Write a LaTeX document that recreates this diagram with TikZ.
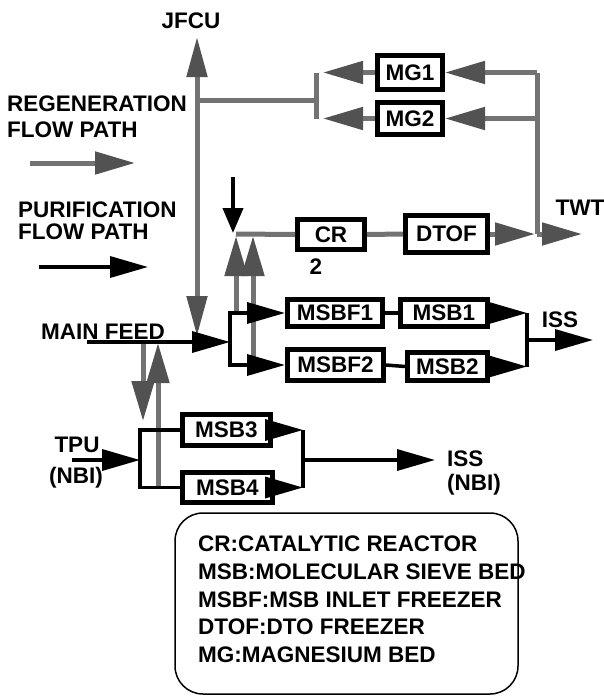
\documentclass[tikz,border=0pt]{standalone}
\usepackage{fontspec}
\setmainfont{Liberation Sans}
\usetikzlibrary{arrows.meta}
\begin{document}
\begin{tikzpicture}[x=1pt,y=-1pt,
  font=\fontsize{22.5}{26}\selectfont\bfseries,
  box/.style={draw=black,line width=5pt,fill=white,inner sep=0pt},
  lbl/.style={inner sep=0pt},
  pur/.style={draw=black,line width=3.5pt},
  purtip/.style={-{Triangle[length=38pt,width=21pt]}},
  reg/.style={draw=black!55,line width=5pt},
  regtip/.style={-{Triangle[length=40pt,width=22pt,color=black!68]}},
  regtips/.style={{Triangle[length=40pt,width=20pt,color=black!68]}-{Triangle[length=40pt,width=20pt,color=black!68]}},
  thin/.style={draw=black,line width=4pt,-{Triangle[length=25pt,width=20pt]}}
]
\useasboundingbox (0,0) rectangle (603,696);

% ---- boxes
\node[box,minimum width=65pt,minimum height=34pt] (MG1) at (410,72.5) {MG1};
\node[box,minimum width=65pt,minimum height=32pt] (MG2) at (410,118.5) {MG2};
\node[box,minimum width=67pt,minimum height=30pt] (CR) at (331,234.5) {CR};
\node[box,minimum width=82pt,minimum height=37pt] (DTOF) at (446.5,234) {DTOF};
\node[box,minimum width=95pt,minimum height=27pt] (MSBF1) at (335,313) {MSBF1};
\node[box,minimum width=87pt,minimum height=27pt] (MSB1) at (444,313) {MSB1};
\node[box,minimum width=96pt,minimum height=31pt] (MSBF2) at (335.5,365) {MSBF2};
\node[box,minimum width=80pt,minimum height=28pt] (MSB2) at (447.5,366.5) {MSB2};
\node[box,minimum width=88pt,minimum height=31pt] (MSB3) at (226.5,430) {MSB3};
\node[box,minimum width=90pt,minimum height=30pt] (MSB4) at (227.5,487.5) {MSB4};

% ---- coordinates
\coordinate (jt) at (197,37);
\coordinate (jb) at (197,336);
\coordinate (jr) at (197,100);
\coordinate (mgj) at (316,100);
\coordinate (mgj1) at (316,72.5);
\coordinate (mgj2) at (316,118.5);
\coordinate (rt1) at (537,72.5);
\coordinate (rt2) at (537,118.5);
\coordinate (rtb) at (537,234);
\coordinate (crin) at (236,234);
\coordinate (dtofout) at (535,234);
\coordinate (twt) at (582,234);
\coordinate (up1s) at (236,313);
\coordinate (up1e) at (236,236);
\coordinate (up2s) at (253,366);
\coordinate (up2e) at (253,236);
\coordinate (blk1) at (233,177);
\coordinate (blk2) at (233,233);
\coordinate (mf) at (87,342);
\coordinate (j1) at (230,342);
\coordinate (o1a) at (527,313);
\coordinate (o1b) at (527,366.5);
\coordinate (o1) at (527,340);
\coordinate (iss1) at (593,340);
\coordinate (dn1s) at (143,342);
\coordinate (dn1e) at (143,421);
\coordinate (up3s) at (158,488);
\coordinate (up3e) at (158,343);
\coordinate (tpu) at (72,460);
\coordinate (j2) at (140,460);
\coordinate (o2a) at (303,430);
\coordinate (o2b) at (303,487.5);
\coordinate (o2) at (303,460);
\coordinate (iss2) at (435,460);
\coordinate (lr1) at (30,163);
\coordinate (lr2) at (135,163);
\coordinate (lp1) at (39,267);
\coordinate (lp2) at (148,267);

% ---- regeneration flow path (gray)
\draw[reg,regtips] (jb) -- (jt);
\draw[reg] (jr) -- (mgj);
\draw[reg] (mgj1) -- (mgj2);
\draw[reg,regtip] (MG1.west) -- ([xshift=7pt]mgj1);
\draw[reg,regtip] (MG2.west) -- ([xshift=7pt]mgj2);
\draw[reg] (rt1) -- (rtb);
\draw[reg,regtip] (rt1) -- (MG1.east);
\draw[reg,regtip] (rt2) -- (MG2.east);
\draw[reg] (crin) -- (CR.west);
\draw[reg] (CR.east) -- (DTOF.west);
\draw[reg,regtip] (DTOF.east) -- (dtofout);
\draw[reg,regtip] (rtb) -- (twt);
\draw[reg,regtip] (up1s) -- (up1e);
\draw[reg,regtip] (up2s) -- (up2e);
\draw[reg,regtip] (dn1s) -- (dn1e);
\draw[reg,regtip] (up3s) -- (up3e);

% ---- purification flow path (black)
\draw[thin] (blk1) -- (blk2);
\draw[pur,purtip] (mf) -- (j1);
\draw[pur,purtip] (j1) |- (MSBF1.west);
\draw[pur,purtip] (j1) |- (MSBF2.west);
\draw[pur] (MSBF1.east) -- (MSB1.west);
\draw[pur] (MSBF2.east) -- (MSB2.west);
\draw[pur,purtip] (MSB1.east) -- (o1a);
\draw[pur,purtip] (MSB2.east) -- (o1b);
\draw[pur] (o1a) -- (o1b);
\draw[pur,purtip] (o1) -- (iss1);
\draw[pur,purtip] (tpu) -- (j2);
\draw[pur] (MSB3.west) -| (j2) |- (MSB4.west);
\draw[pur,purtip] (MSB3.east) -- (o2a);
\draw[pur,purtip] (MSB4.east) -- (o2b);
\draw[pur] (o2a) -- (o2b);
\draw[pur,purtip] (o2) -- (iss2);

% ---- legend arrows
\draw[reg,regtip] (lr1) -- (lr2);
\draw[pur,purtip] (lp1) -- (lp2);

% ---- texts
\node[lbl] (tjfcu) at (191,21) {JFCU};
\node[lbl,anchor=west] (treg1) at (7,104) {REGENERATION};
\node[lbl,anchor=west] (treg2) at (7,129.5) {FLOW PATH};
\node[lbl,anchor=west] (tpur1) at (18,210) {PURIFICATION};
\node[lbl,anchor=west] (tpur2) at (18,232) {FLOW PATH};
\node[lbl] (tmain) at (103,332) {MAIN FEED};
\node[lbl] (ttwt) at (580,208) {TWT};
\node[lbl] (ttwo) at (316,267) {2};
\node[lbl] (tiss1) at (560,320) {ISS};
\node[lbl] (ttpu) at (77,445) {TPU};
\node[lbl] (tnbi1) at (76,478) {(NBI)};
\node[lbl,anchor=west] (tiss2) at (447,459) {ISS};
\node[lbl,anchor=west] (tnbi2) at (447,485) {(NBI)};

% ---- legend box
\draw[line width=1.5pt,rounded corners=28pt] (175,513) rectangle (518,694);
\node[lbl,anchor=west] (k1) at (198,544) {CR:CATALYTIC REACTOR};
\node[lbl,anchor=west] (k2) at (198,572) {MSB:MOLECULAR SIEVE BED};
\node[lbl,anchor=west] (k3) at (198,600) {MSBF:MSB INLET FREEZER};
\node[lbl,anchor=west] (k4) at (198,627) {DTOF:DTO FREEZER};
\node[lbl,anchor=west] (k5) at (198,655) {MG:MAGNESIUM BED};
\end{tikzpicture}
\end{document}
